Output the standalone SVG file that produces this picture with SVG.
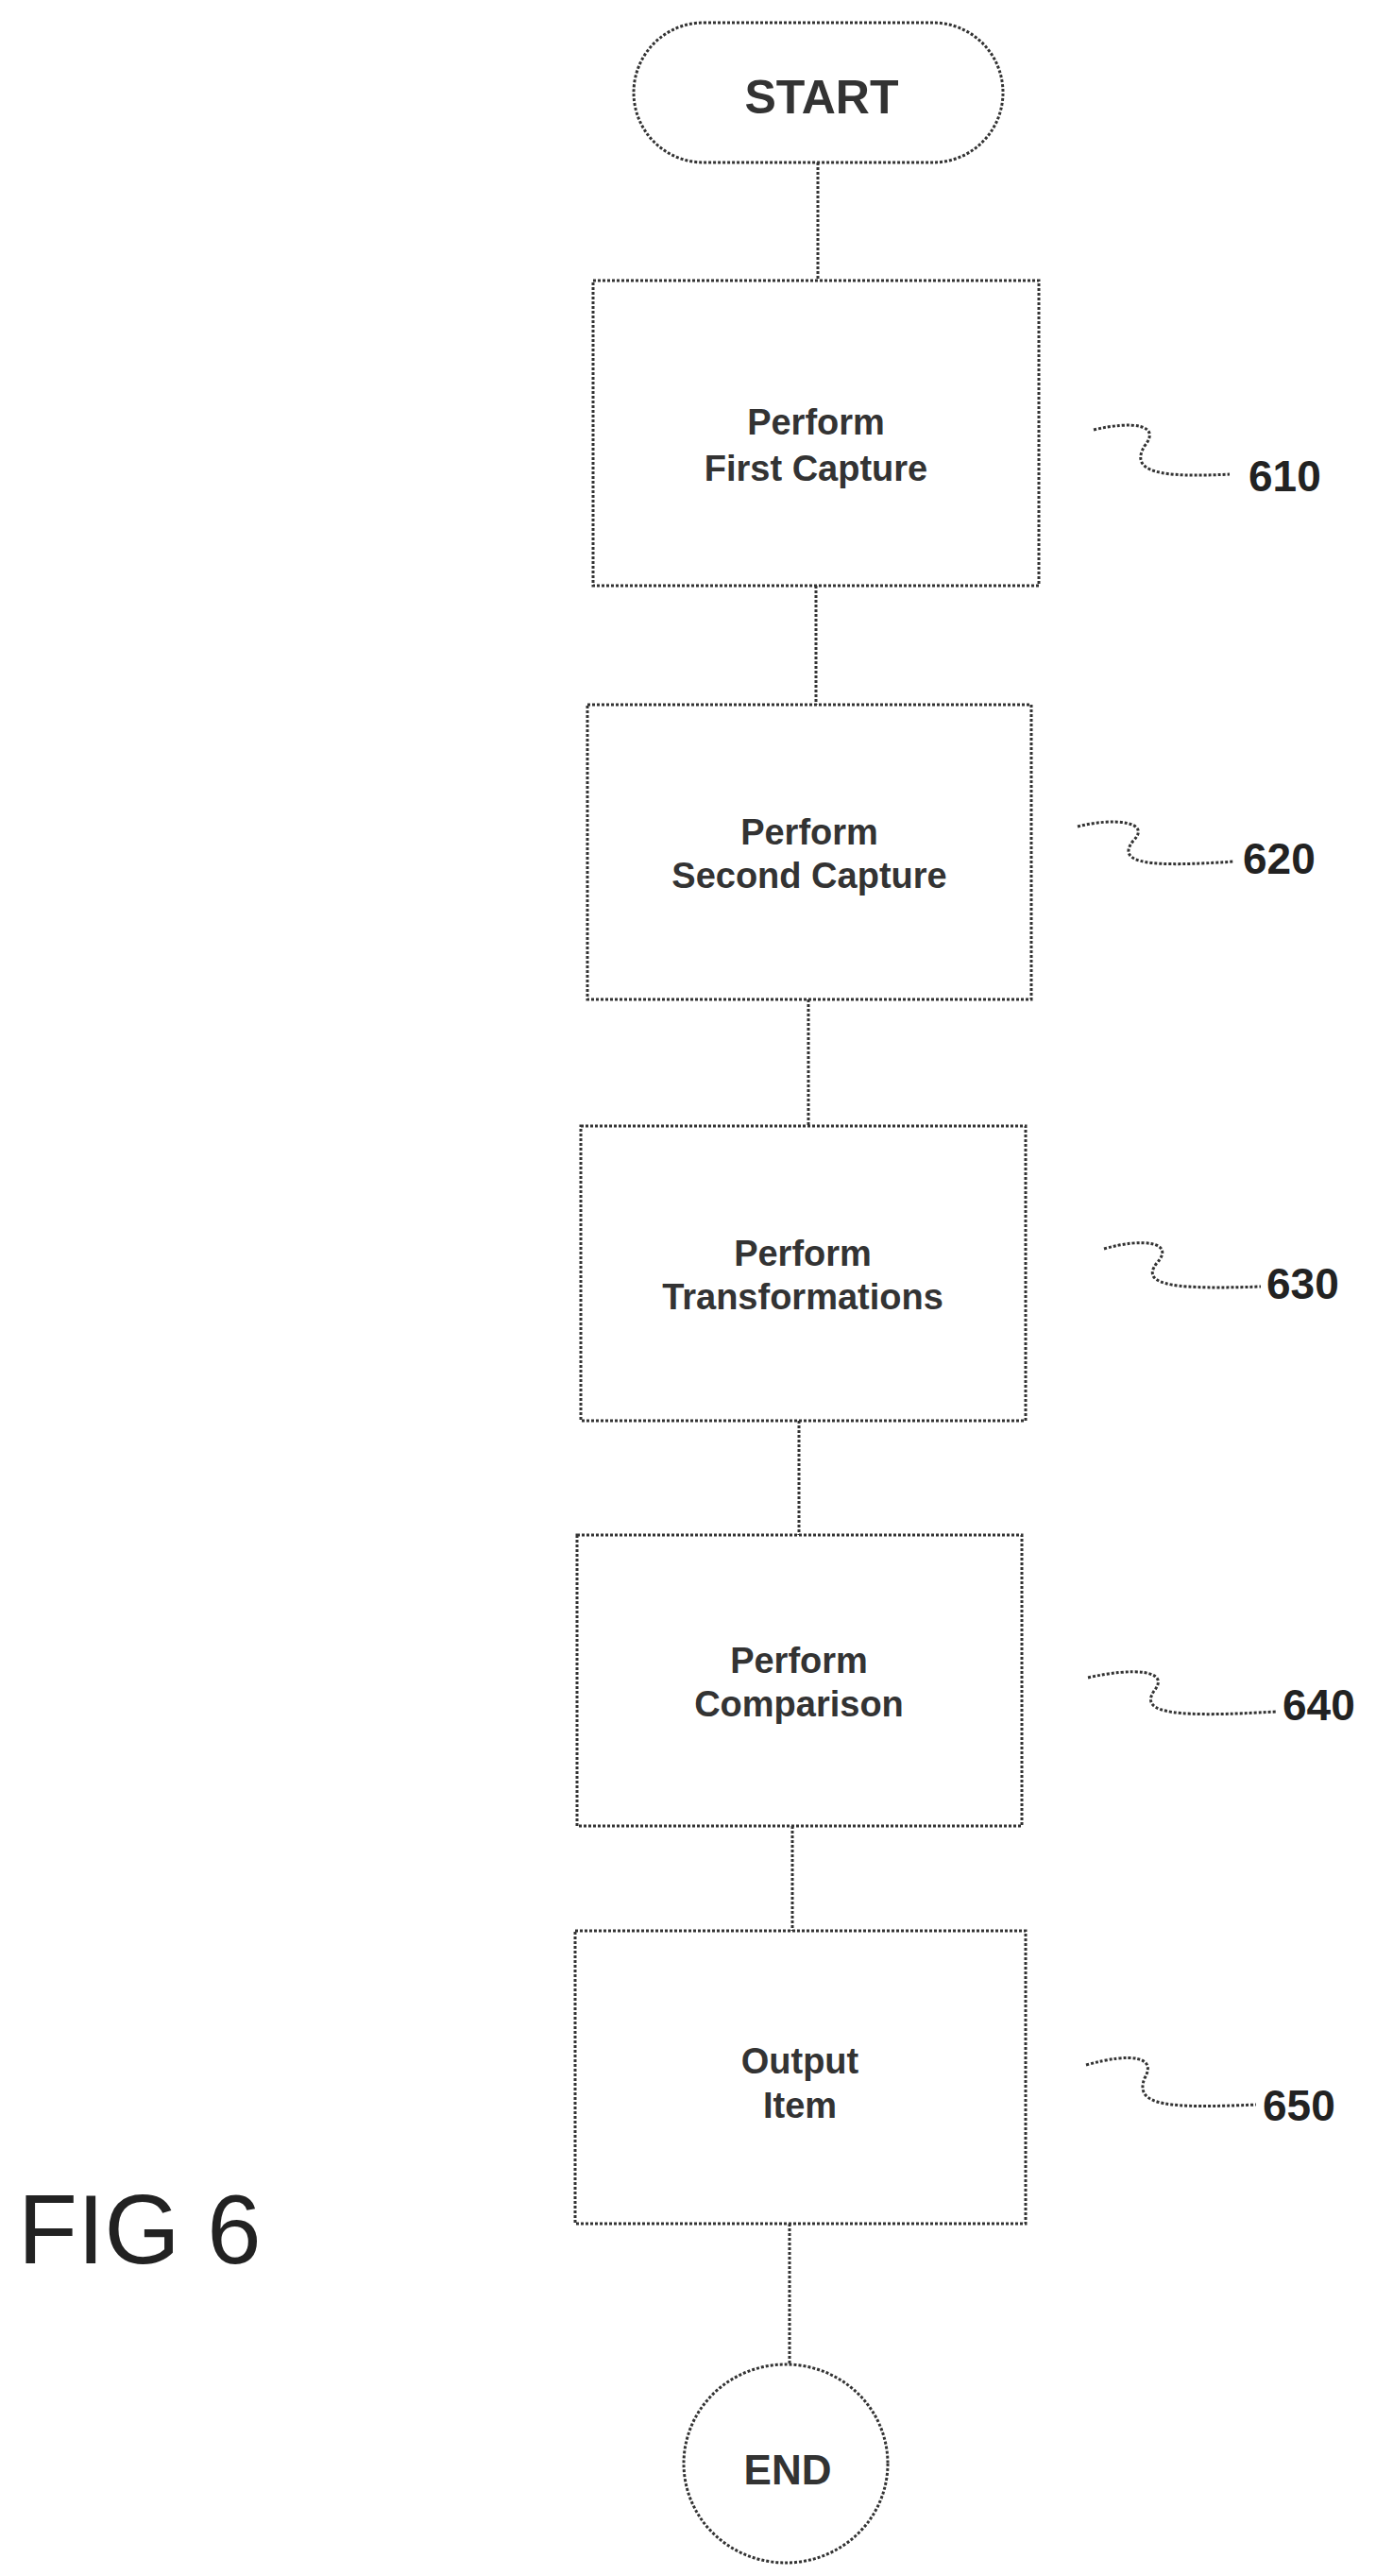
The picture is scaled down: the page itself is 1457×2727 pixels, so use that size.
<svg xmlns="http://www.w3.org/2000/svg" width="1457" height="2727" viewBox="0 0 1457 2727">
<style>
.s{fill:#fff;stroke:#333;stroke-width:3;stroke-dasharray:3 2}
.c{fill:none;stroke:#333;stroke-width:3;stroke-dasharray:3 2}
.t{font-family:"Liberation Sans",Arial,sans-serif;font-weight:bold;font-size:38px;fill:#333;text-anchor:middle}
.n{font-family:"Liberation Sans",Arial,sans-serif;font-weight:bold;font-size:46px;fill:#222}
</style>
<rect width="1457" height="2727" fill="#fff"/>
<g id="connectors">
<path class="c" d="M866 172V297M864 620V746M856 1058V1192M846 1504V1625M839 1933V2044M836 2354V2502"/>
<path class="c" d="M1158 455C1200 445 1230 450 1212 472C1195 500 1230 506 1302 502"/>
<path class="c" d="M1141 875C1180 865 1220 870 1200 890C1180 915 1220 918 1307 912"/>
<path class="c" d="M1169 1322C1210 1310 1245 1315 1225 1337C1205 1362 1250 1365 1335 1362"/>
<path class="c" d="M1152 1776C1200 1765 1240 1768 1222 1790C1205 1815 1250 1818 1351 1812"/>
<path class="c" d="M1150 2186C1200 2172 1225 2178 1212 2200C1200 2230 1240 2232 1330 2228"/>
</g>
<g id="start"><rect class="s" x="671" y="24" width="391" height="148" rx="74"/><text class="t" x="870" y="120" style="font-size:50px">START</text></g>
<g id="n610"><rect class="s" x="628" y="297" width="472" height="323"/><text class="t" x="864" y="460">Perform</text><text class="t" x="864" y="509">First Capture</text><text class="n" x="1322" y="520">610</text></g>
<g id="n620"><rect class="s" x="622" y="746" width="470" height="312"/><text class="t" x="857" y="894">Perform</text><text class="t" x="857" y="940">Second Capture</text><text class="n" x="1316" y="925">620</text></g>
<g id="n630"><rect class="s" x="615" y="1192" width="471" height="312"/><text class="t" x="850" y="1340">Perform</text><text class="t" x="850" y="1386">Transformations</text><text class="n" x="1341" y="1375">630</text></g>
<g id="n640"><rect class="s" x="611" y="1625" width="471" height="308"/><text class="t" x="846" y="1771">Perform</text><text class="t" x="846" y="1817">Comparison</text><text class="n" x="1358" y="1821">640</text></g>
<g id="n650"><rect class="s" x="609" y="2044" width="477" height="310"/><text class="t" x="847" y="2195">Output</text><text class="t" x="847" y="2242">Item</text><text class="n" x="1337" y="2245">650</text></g>
<g id="end"><ellipse class="s" cx="832" cy="2608" rx="108" ry="105"/><text class="t" x="834" y="2630" style="font-size:44px">END</text></g>
<text x="19" y="2396" style="font-family:'Liberation Sans',Arial,sans-serif;font-size:103px;fill:#222">FIG 6</text>
</svg>
